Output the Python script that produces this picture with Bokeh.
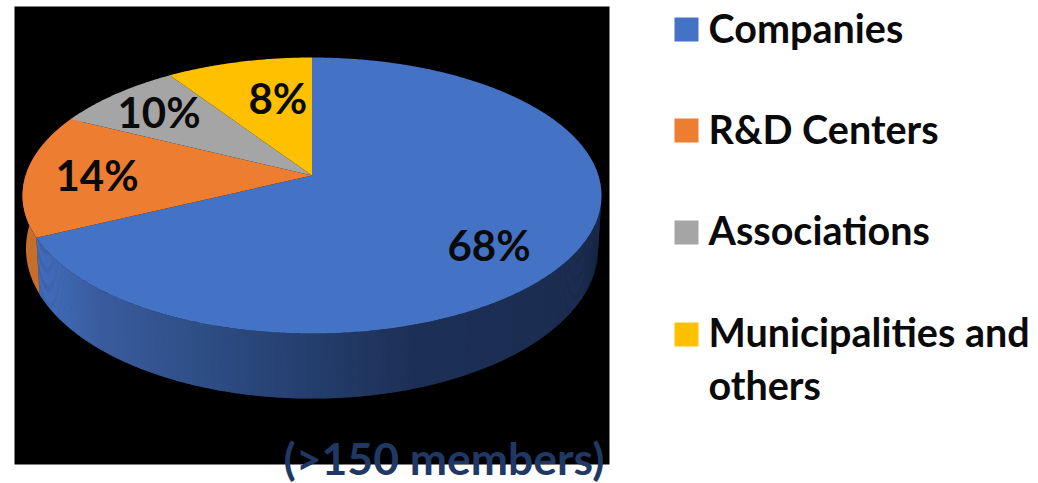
import math
from bokeh.plotting import figure
from bokeh.core.properties import value
from bokeh.embed import file_html
from bokeh.resources import INLINE

# Category names, as printed in the legend
categories = ["Companies", "R&D Centers", "Associations", "Municipalities and\nothers"]
# Labels as printed on the slices
slice_labels = ["68%", "14%", "10%", "8%"]
drawn_shares = [67.9, 14.4, 8.3, 9.4]
colors = ["#4472C4", "#ED7D31", "#A5A5A5", "#FFC000"]
side_orange = "#C86E2D"
footnote = "(>150 members)"
# wall shading: position along the wall (page px) and colour
wall_x = [36, 100, 200, 300, 420, 600]
wall_rgb = [(66, 110, 190), (58, 92, 158), (46, 78, 134), (37, 63, 111), (28, 47, 85), (27, 45, 80)]

W, H = 1038, 483
p = figure(width=W, height=H, x_range=(0, W), y_range=(H, 0), output_backend="svg",
           toolbar_location=None, min_border=0, outline_line_color=None,
           background_fill_color="white", border_fill_color="white")
p.axis.visible = False
p.grid.visible = False

p.quad(left=[14], right=[609], top=[6], bottom=[464], fill_color="black", line_color=None)

# Perspective projection of the disc
CX = 311.5
P = 0.145


def proj(deg, cy, sx, sy):
    t = math.radians(deg)
    u, v = math.sin(t), math.cos(t)
    w = 1 + P * v
    return CX + sx * u / w, cy - sy * v / w


TOP = (175.0, 286.4, 135.1)
BOT = (226.3, 283.0, 146.9)

total = sum(drawn_shares)
edges = [0.0]
for s in drawn_shares:
    edges.append(edges[-1] + s / total * 360)


def interp(x):
    if x <= wall_x[0]:
        return wall_rgb[0]
    for i in range(1, len(wall_x)):
        if x <= wall_x[i]:
            f = (x - wall_x[i - 1]) / (wall_x[i] - wall_x[i - 1])
            return tuple(round(a + (b - a) * f) for a, b in zip(wall_rgb[i - 1], wall_rgb[i]))
    return wall_rgb[-1]


# side wall: blue part, from the right round to the orange boundary
xs, ys, cs = [], [], []
deg = 60.0
step = 0.5
while deg < edges[1]:
    d2 = min(deg + step + 0.25, edges[1])
    a, b = proj(deg, *TOP), proj(d2, *TOP)
    c, d = proj(d2, *BOT), proj(deg, *BOT)
    xs.append([a[0], b[0], c[0], d[0]])
    ys.append([a[1], b[1], c[1], d[1]])
    r, g, bl = interp((a[0] + c[0]) / 2)
    cs.append(f"#{r:02x}{g:02x}{bl:02x}")
    deg += step
p.patches(xs, ys, fill_color=cs, line_color=None)

# side wall: orange part
n = 60
d0, d1 = edges[1], 300.0
tops = [proj(d0 + (d1 - d0) * i / n, *TOP) for i in range(n + 1)]
bots = [proj(d0 + (d1 - d0) * i / n, *BOT) for i in range(n + 1)]
ring = tops + bots[::-1]
p.patch([q[0] for q in ring], [q[1] for q in ring], fill_color=side_orange, line_color=None)

# top surface
for i, col in enumerate(colors):
    a0, a1 = edges[i], edges[i + 1]
    m = max(4, int((a1 - a0) * 2))
    pts = [proj(0, TOP[0], 0, 0)]
    pts += [proj(a0 + (a1 - a0) * k / m, *TOP) for k in range(m + 1)]
    p.patch([q[0] for q in pts], [q[1] for q in pts], fill_color=col, line_color=None)

# slice labels
FONT = value("Lato")
p.text(x=[447, 55, 117, 248], y=[244, 174, 111, 97], text=slice_labels,
       text_font=FONT, text_font_style="bold", text_font_size="42px",
       text_color="#0a0a0a", text_baseline="alphabetic", text_align="left")

# legend
p.quad(left=[674] * 4, right=[698] * 4, top=[17, 118, 220, 322], bottom=[41, 142, 244, 346],
       fill_color=colors, line_color=None)
lines = []
for c in categories:
    lines.extend(c.split("\n"))
p.text(x=[708] * 5, y=[27, 128, 229, 331, 384], text=lines,
       text_font=FONT, text_font_style="bold", text_font_size="39.5px",
       text_color="#0a0a0a", text_baseline="alphabetic", text_align="left")

p.text(x=[283], y=[457], text=[footnote], text_font=FONT, text_font_style="bold",
       text_font_size="44.5px", text_color="#1F3864", text_baseline="alphabetic", text_align="left")

open("out.html", "w").write(file_html(p, INLINE))
